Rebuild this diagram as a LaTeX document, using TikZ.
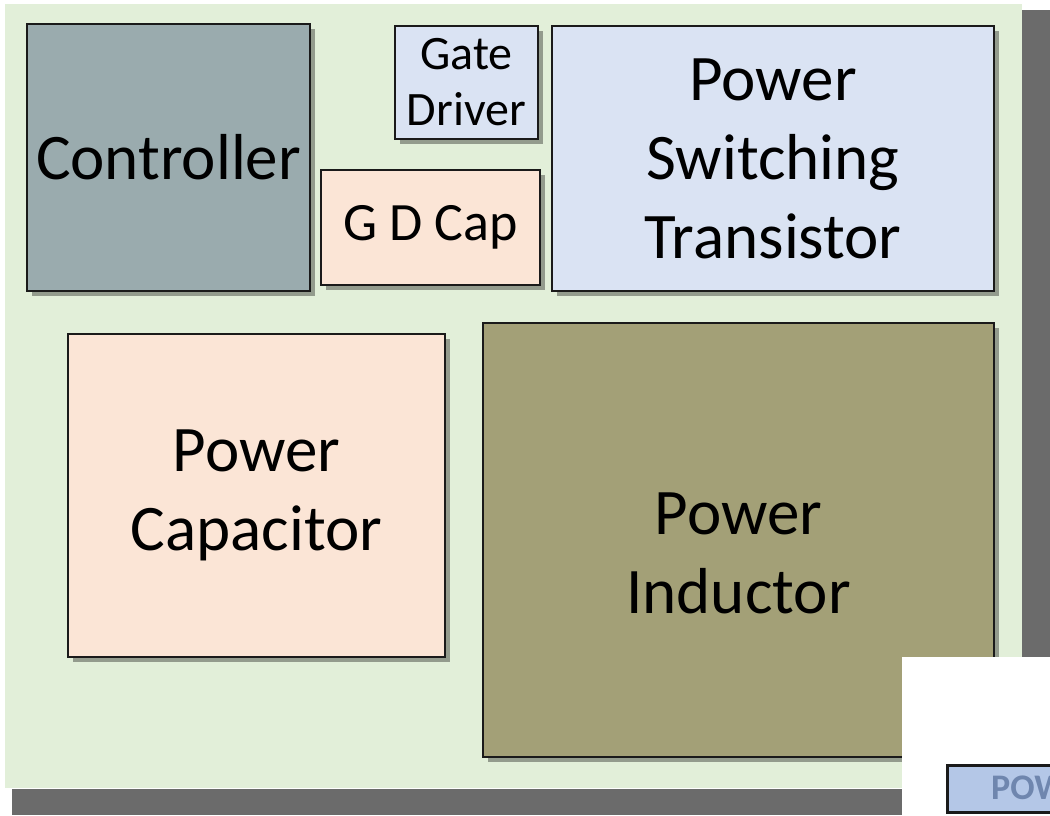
\documentclass[tikz,border=0pt]{standalone}
\usepackage{fontspec}
\setmainfont{Carlito}
\usetikzlibrary{shadows}
\definecolor{panel}{HTML}{E2EFD9}
\definecolor{shadowgray}{HTML}{6B6B6B}
\definecolor{ctrlfill}{HTML}{9AABAE}
\definecolor{lblue}{HTML}{DAE3F3}
\definecolor{peach}{HTML}{FBE5D6}
\definecolor{olive}{HTML}{A3A077}
\definecolor{boxline}{HTML}{1A1A1A}
\definecolor{powfill}{HTML}{B4C7E7}
\definecolor{powtext}{HTML}{6F86AE}
\begin{document}
\begin{tikzpicture}[x=1pt,y=-1pt,
  box/.style={draw=boxline, line width=2pt, inner sep=0pt, align=center, anchor=north west,
    drop shadow={shadow xshift=5pt, shadow yshift=-5pt, fill=black, opacity=0.35}},
  bigtext/.style={font=\fontsize{65}{79}\selectfont},
  midtext/.style={font=\fontsize{54}{60}\selectfont},
  smalltext/.style={font=\fontsize{48}{56}\selectfont}]
\useasboundingbox (0,0) rectangle (1050,815);
\fill[white] (0,0) rectangle (1050,815);
\fill[shadowgray] (1022,10) rectangle (1050,815);
\fill[shadowgray] (12,789) rectangle (1050,815);
\fill[panel] (5,4) rectangle (1022,788);
\node[box, fill=ctrlfill, bigtext, minimum width=283pt, minimum height=267pt] (ctrl) at (26,23) {Controller};
\node[box, fill=lblue, smalltext, minimum width=143pt, minimum height=113pt] (gd) at (394,25) {Gate\\Driver};
\node[box, fill=peach, midtext, minimum width=219pt, minimum height=115pt] (gdcap) at (320,169) {G D Cap};
\node[box, fill=lblue, bigtext, minimum width=442pt, minimum height=265pt] (pst) at (551,25) {Power\\Switching\\Transistor};
\node[box, fill=peach, bigtext, minimum width=377pt, minimum height=323pt] (pcap) at (67,333) {Power\\Capacitor};
\node[box, fill=olive, minimum width=511pt, minimum height=434pt] (pind) at (482,322) {};
\node[bigtext, align=center, inner sep=0pt] (pindtext) at ([yshift=-13pt]pind.center) {Power\\Inductor};
\fill[white] (902,657) rectangle (1050,815);
\node[draw=boxline, line width=3pt, fill=powfill, anchor=north west, minimum width=120pt, minimum height=47pt, inner sep=0pt] (pow) at (946,764) {};
\node[anchor=west, text=powtext, font=\fontsize{36}{40}\selectfont\bfseries, inner sep=0pt] (powtext) at (991,788) {POW};
\end{tikzpicture}
\end{document}
